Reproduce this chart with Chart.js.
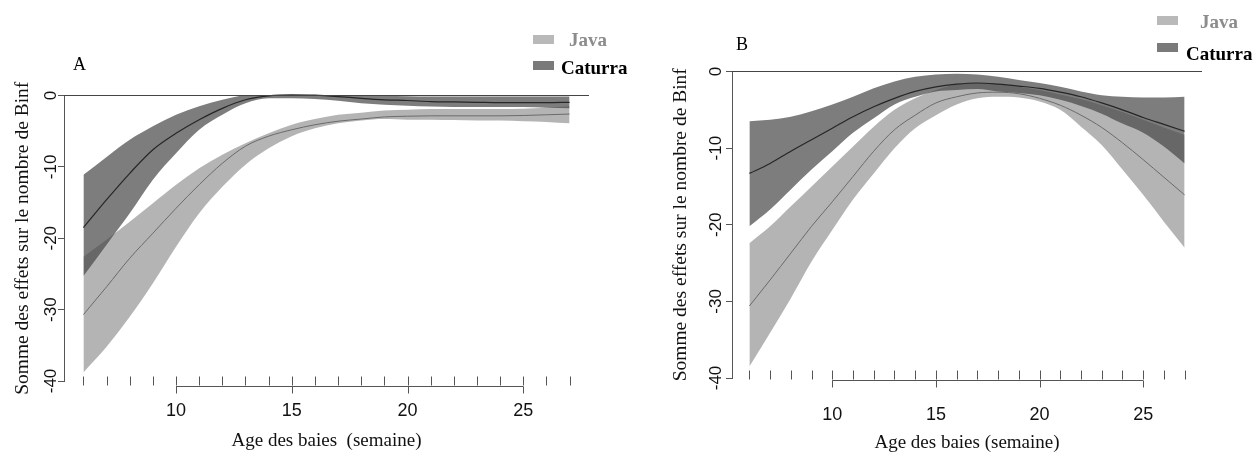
<!DOCTYPE html>
<html>
<head>
<meta charset="utf-8">
<script src="https://cdn.jsdelivr.net/npm/chart.js@4.4.1/dist/chart.umd.min.js"></script>
<style>
body { margin: 0; background: #fff; }
#wrap { position: relative; width: 1258px; height: 454px; font-family: 'Liberation Serif', serif; }
canvas { position: absolute; top: 0; }
.txt { position: absolute; white-space: nowrap; line-height: 1; }
.box { position: absolute; width: 21px; height: 9px; }
</style>
</head>
<body>
<div id="wrap">
  <canvas id="graphA" width="629" height="454" style="left:0"></canvas>
  <canvas id="graphB" width="629" height="454" style="left:629px"></canvas>

  <div class="txt" style="left:73px;top:55px;font-size:18px">A</div>
  <div class="box" style="left:533px;top:35px;background:#b9b9b9"></div>
  <div class="txt" style="left:569px;top:30px;font-size:19px;font-weight:bold;color:#8c8c8c">Java</div>
  <div class="box" style="left:533px;top:61px;background:#7a7a7a"></div>
  <div class="txt" style="left:561px;top:58px;font-size:19px;font-weight:bold;color:#000">Caturra</div>

  <div class="txt" style="left:736px;top:35px;font-size:18px">B</div>
  <div class="box" style="left:1157px;top:16px;background:#b9b9b9"></div>
  <div class="txt" style="left:1200px;top:12px;font-size:19px;font-weight:bold;color:#8c8c8c">Java</div>
  <div class="box" style="left:1157px;top:43px;background:#7a7a7a"></div>
  <div class="txt" style="left:1186px;top:44px;font-size:19px;font-weight:bold;color:#000">Caturra</div>
</div>

<script>
// age des baies (semaines)
var weeks = [6, 7, 8, 9, 10, 11, 12, 13, 14, 15, 16, 17, 18, 19, 20, 21, 22, 23, 24, 25, 26, 27];
var xTicks = [10, 15, 20, 25];
var yTicks = [0, -10, -20, -30, -40];

// panel A
var javaFitA = [-30.7, -26.8, -22.8, -19.3, -15.8, -12.5, -9.5, -7.1, -5.7, -4.8, -4.1, -3.6, -3.3, -3.0, -2.9, -2.85, -2.85, -2.85, -2.85, -2.8, -2.7, -2.6];
var javaHighA = [-22.6, -20.2, -17.7, -15.1, -12.5, -10.2, -8.3, -6.7, -5.3, -4.1, -3.3, -2.7, -2.4, -2.1, -2.0, -1.9, -1.9, -1.9, -1.9, -1.85, -1.7, -1.5];
var javaLowA = [-38.8, -35.2, -31.0, -26.3, -21.2, -16.5, -12.8, -9.7, -7.4, -5.7, -4.6, -3.9, -3.5, -3.3, -3.4, -3.4, -3.45, -3.5, -3.5, -3.6, -3.7, -3.9];
var caturraFitA = [-18.5, -14.6, -10.9, -7.6, -5.3, -3.4, -1.8, -0.6, -0.05, 0.1, 0.05, -0.15, -0.4, -0.6, -0.7, -0.85, -0.9, -0.95, -1.0, -1.0, -1.0, -0.95];
var caturraHighA = [-11.1, -8.6, -6.2, -4.3, -2.7, -1.5, -0.6, 0.1, 0.55, 0.8, 0.8, 0.5, 0.2, 0.0, -0.1, -0.15, -0.15, -0.15, -0.15, -0.15, -0.15, -0.15];
var caturraLowA = [-25.3, -20.9, -16.5, -11.8, -8.1, -4.8, -2.7, -1.1, -0.4, -0.4, -0.5, -0.75, -1.1, -1.3, -1.45, -1.55, -1.6, -1.6, -1.6, -1.6, -1.7, -1.8];

// panel B
var javaFitB = [-30.6, -27.2, -23.7, -20.2, -17.0, -13.7, -10.4, -7.6, -5.7, -4.1, -3.3, -2.8, -2.7, -2.9, -3.5, -4.4, -5.7, -7.3, -9.3, -11.5, -13.8, -16.1];
var javaHighB = [-22.4, -20.2, -17.6, -15.0, -12.4, -9.8, -7.2, -5.0, -3.5, -2.4, -1.7, -1.5, -1.7, -2.0, -2.4, -3.0, -3.6, -4.4, -5.3, -6.3, -7.3, -8.3];
var javaLowB = [-38.5, -34.1, -29.6, -24.8, -20.7, -16.7, -13.3, -10.0, -7.4, -5.7, -4.3, -3.5, -3.3, -3.4, -3.9, -5.0, -7.2, -9.6, -12.8, -16.1, -19.6, -23.0];
var caturraFitB = [-13.3, -12.0, -10.4, -8.9, -7.4, -5.9, -4.6, -3.5, -2.6, -2.0, -1.65, -1.5, -1.65, -1.9, -2.2, -2.7, -3.3, -4.1, -5.0, -6.0, -6.9, -7.8];
var caturraHighB = [-6.5, -6.3, -5.9, -5.2, -4.3, -3.3, -2.2, -1.3, -0.7, -0.4, -0.3, -0.4, -0.7, -1.1, -1.5, -2.0, -2.6, -3.1, -3.3, -3.4, -3.4, -3.3];
var caturraLowB = [-20.2, -18.0, -15.4, -12.8, -10.4, -8.0, -6.1, -4.3, -3.3, -2.6, -2.4, -2.3, -2.6, -2.8, -3.1, -3.7, -4.5, -5.5, -6.8, -8.0, -9.8, -12.0];

var xMin = 5.16, xMax = 27.84;

function pts(arr) {
    return weeks.map(function(w, i) { return {x: w, y: arr[i]}; });
}

// axe x facon R : segment 10-25 + rug de chaque semaine
var rAxis = {
    id: 'rAxis',
    afterDraw: function(chart, args, opts) {
        var ctx = chart.ctx, x = chart.scales.x, y = chart.scales.y;
        var yl = Math.round(y.getPixelForValue(opts.axisAt)) + 0.5;
        ctx.save();
        ctx.strokeStyle = '#555';
        ctx.lineWidth = 1;
        ctx.beginPath();
        ctx.moveTo(x.getPixelForValue(xTicks[0]), yl);
        ctx.lineTo(x.getPixelForValue(xTicks[xTicks.length - 1]), yl);
        xTicks.forEach(function(v) {
            var px = Math.round(x.getPixelForValue(v)) + 0.5;
            ctx.moveTo(px, yl);
            ctx.lineTo(px, yl + 7);
        });
        weeks.forEach(function(v) {
            var px = Math.round(x.getPixelForValue(v)) + 0.5;
            ctx.moveTo(px, yl - 10);
            ctx.lineTo(px, yl - 1);
        });
        ctx.stroke();
        ctx.restore();
    }
};

function makePanel(id, d, cfg) {
    var band = {pointRadius: 0, borderWidth: 0, cubicInterpolationMode: 'monotone', clip: false};
    new Chart(document.getElementById(id), {
        type: 'line',
        data: {
            datasets: [
                Object.assign({data: pts(d.javaHigh), fill: '+1', backgroundColor: 'rgba(140,140,140,0.65)', order: 4}, band),
                Object.assign({data: pts(d.javaLow), fill: false, order: 4}, band),
                Object.assign({data: pts(d.catHigh), fill: '+1', backgroundColor: 'rgba(70,70,70,0.7)', order: 3}, band),
                Object.assign({data: pts(d.catLow), fill: false, order: 3}, band),
                {data: pts(d.javaFit), borderColor: '#6a6a6a', borderWidth: 1, pointRadius: 0, cubicInterpolationMode: 'monotone', fill: false, order: 2, clip: false},
                {data: pts(d.catFit), borderColor: '#262626', borderWidth: 1.2, pointRadius: 0, cubicInterpolationMode: 'monotone', fill: false, order: 1, clip: false},
                {data: [{x: xMin, y: 0}, {x: xMax, y: 0}], borderColor: '#444', borderWidth: 1, pointRadius: 0, fill: false, order: 0, clip: false}
            ]
        },
        options: {
            responsive: false,
            animation: false,
            events: [],
            layout: {padding: {top: cfg.top, right: cfg.right, left: 0, bottom: 0}},
            plugins: {legend: {display: false}, tooltip: {enabled: false}, rAxis: {axisAt: cfg.axisAt}},
            scales: {
                x: {
                    type: 'linear', min: xMin, max: xMax,
                    afterBuildTicks: function(s) { s.ticks = xTicks.map(function(v) { return {value: v}; }); },
                    afterFit: function(s) { s.height = cfg.bottom; },
                    border: {display: false},
                    grid: {display: false, drawTicks: false},
                    ticks: {maxRotation: 0, padding: cfg.xPad, color: '#111', font: {family: 'Liberation Sans', size: 18}},
                    title: {display: true, text: cfg.xTitle, color: '#111', font: {family: 'Liberation Serif', size: 19}, padding: {top: 0, bottom: cfg.xTitlePad}}
                },
                y: {
                    min: -40, max: 0,
                    afterBuildTicks: function(s) { s.ticks = yTicks.map(function(v) { return {value: v}; }); },
                    afterFit: function(s) { s.width = cfg.left; },
                    border: {color: '#555'},
                    grid: {drawOnChartArea: false, tickLength: 6, color: '#555'},
                    ticks: {minRotation: 90, maxRotation: 90, crossAlign: 'center', padding: cfg.yPad, color: '#111', font: {family: 'Liberation Sans', size: 17}},
                    title: {display: true, text: 'Somme des effets sur le nombre de Binf', color: '#111', font: {family: 'Liberation Serif', size: 19.5}, padding: {top: cfg.yTitlePad, bottom: 0}}
                }
            }
        },
        plugins: [rAxis]
    });
}

makePanel('graphA',
    {javaFit: javaFitA, javaHigh: javaHighA, javaLow: javaLowA, catFit: caturraFitA, catHigh: caturraHighA, catLow: caturraLowA},
    {top: 95.5, right: 40, left: 64, bottom: 73, axisAt: -40.7, xPad: 19, yPad: -6, xTitle: 'Age des baies  (semaine)', xTitlePad: 2, yTitlePad: 11});

makePanel('graphB',
    {javaFit: javaFitB, javaHigh: javaHighB, javaLow: javaLowB, catFit: caturraFitB, catHigh: caturraHighB, catLow: caturraLowB},
    {top: 71.5, right: 56, left: 103, bottom: 76, axisAt: -40.25, xPad: 26, yPad: -3, xTitle: 'Age des baies (semaine)', xTitlePad: 0, yTitlePad: 40});
</script>
</body>
</html>
